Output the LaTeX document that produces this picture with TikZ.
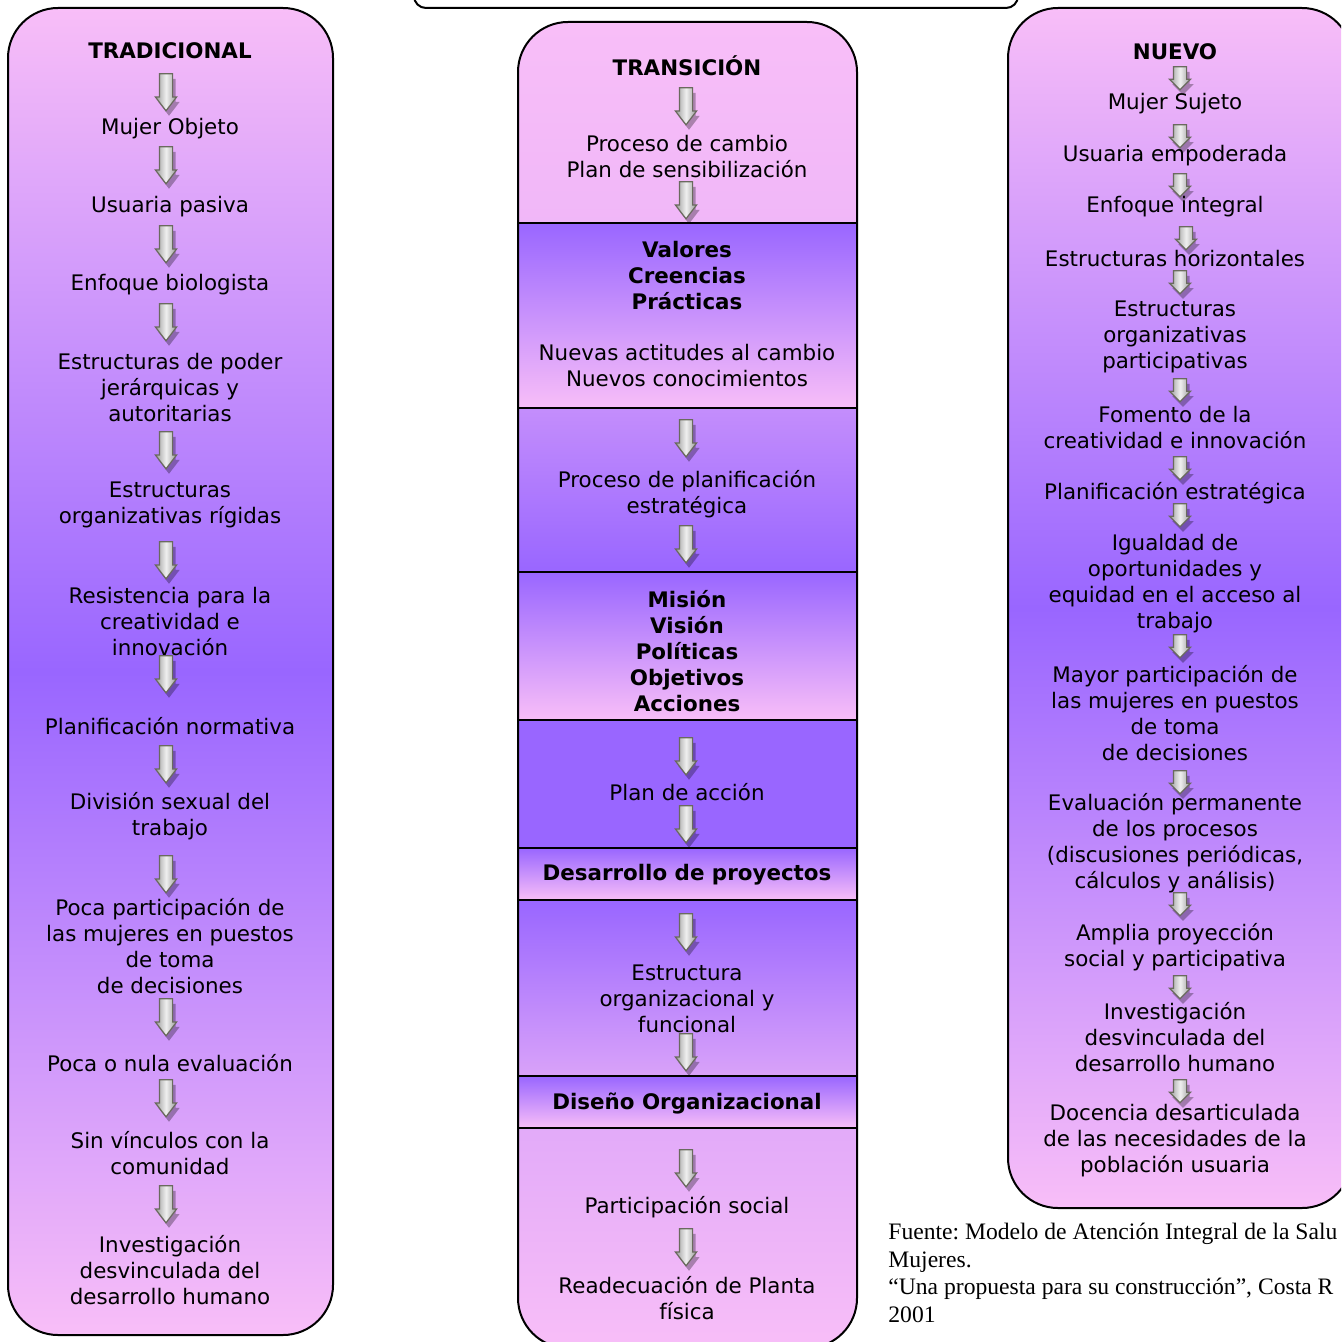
\documentclass[tikz,border=0pt]{standalone}
\usepackage{fontspec}
\setmainfont{DejaVu Sans}
\newfontfamily\fuentefont{Liberation Serif}
\usepackage{tikz}
\usetikzlibrary{shapes}
\usetikzlibrary{shapes.arrows}
\usetikzlibrary{shadows}
\usetikzlibrary{positioning}
\usepackage{xcolor}
\definecolor{rosa}{HTML}{F8BEF8}
\definecolor{lila}{HTML}{9966FF}
\definecolor{malva}{HTML}{D9A2F9}
\definecolor{gris}{HTML}{6A6A5E}
\frenchspacing
\tikzstyle{borde} = [draw=black, line width=1pt]
\tikzstyle{txt} = [inner sep=0pt, align=center, yshift=-1pt, font={\fontsize{10.7pt}{13pt}\selectfont}]
\tikzstyle{tit} = [inner sep=0pt, align=center, yshift=-1pt, font={\fontsize{10.7pt}{13pt}\selectfont\bfseries}]
\tikzstyle{flecha} = [single arrow, shape border rotate=270, draw=gris, line width=0.6pt,
  minimum height=18.5pt, minimum width=10pt, single arrow head extend=2pt,
  single arrow tip angle=75, inner sep=3pt, left color=gray!80, right color=gray!80,
  middle color=gray!12, drop shadow={shadow xshift=1.5pt, shadow yshift=-2.5pt, opacity=0.3, fill=black}]
\tikzstyle{flechac} = [flecha, minimum height=11.5pt, single arrow tip angle=90]
\tikzstyle{fuente} = [inner sep=0pt, align=left, font={\fuentefont\fontsize{11.8pt}{13.75pt}\selectfont}]

\begin{document}
\begin{tikzpicture}[x=0.5pt, y=-0.5pt]

  \useasboundingbox (0,0) rectangle (1341,1342);
  \clip (0,0) rectangle (1341,1342);

  % Define title box (cut at the top)
  \draw[borde, rounded corners=6pt, fill=white] (414,-40) rectangle (1018,8);

  % Define columns
  \draw[borde, rounded corners=25pt, top color=rosa, bottom color=rosa, middle color=lila] (8,8) rectangle (333,1335);
  \draw[borde, rounded corners=25pt, top color=rosa, bottom color=rosa, middle color=lila] (1008,8) rectangle (1352,1208);

  % Define middle column sections
  \begin{scope}
    \clip[rounded corners=25pt] (518,22) rectangle (857,1348);
    \shade[top color=rosa, bottom color=rosa!75!malva] (518,22) rectangle (857,223);
    \shade[top color=lila, bottom color=rosa] (518,223) rectangle (857,408);
    \shade[top color=lila!55!rosa, bottom color=lila] (518,408) rectangle (857,572);
    \shade[top color=lila, bottom color=rosa] (518,572) rectangle (857,720);
    \fill[lila] (518,720) rectangle (857,848);
    \shade[top color=lila, bottom color=rosa] (518,848) rectangle (857,900);
    \shade[top color=lila, bottom color=malva] (518,900) rectangle (857,1076);
    \shade[top color=lila, bottom color=rosa] (518,1076) rectangle (857,1128);
    \shade[top color=malva!70!rosa, bottom color=rosa] (518,1128) rectangle (857,1348);
  \end{scope}
  \draw[borde] (518,223) -- (857,223);
  \draw[borde] (518,408) -- (857,408);
  \draw[borde] (518,572) -- (857,572);
  \draw[borde] (518,720) -- (857,720);
  \draw[borde] (518,848) -- (857,848);
  \draw[borde] (518,900) -- (857,900);
  \draw[borde] (518,1076) -- (857,1076);
  \draw[borde] (518,1128) -- (857,1128);
  \draw[borde, rounded corners=25pt] (518,22) rectangle (857,1348);

  % Define traditional model
  \node[tit] (trad) at (170,49) {TRADICIONAL};
  \node[txt] (t1) at (170,127) {Mujer Objeto};
  \node[txt] (t2) at (170,205) {Usuaria pasiva};
  \node[txt] (t3) at (170,283) {Enfoque biologista};
  \node[txt] (t4) at (170,386) {Estructuras de poder\\jerárquicas y\\autoritarias};
  \node[txt] (t5) at (170,503) {Estructuras\\organizativas rígidas};
  \node[txt] (t6) at (170,620) {Resistencia para la\\creatividad e\\innovación};
  \node[txt] (t7) at (170,724) {Planificación normativa};
  \node[txt] (t8) at (170,814) {División sexual del\\trabajo};
  \node[txt] (t9) at (170,944) {Poca participación de\\las mujeres en puestos\\de toma\\de decisiones};
  \node[txt] (t10) at (170,1061) {Poca o nula evaluación};
  \node[txt] (t11) at (170,1151) {Sin vínculos con la\\comunidad};
  \node[txt] (t12) at (170,1268) {Investigación\\desvinculada del\\desarrollo humano};

  % Define transition
  \node[tit] (trans) at (687,64) {TRANSICIÓN};
  \node[txt] (m1) at (687,155) {Proceso de cambio\\Plan de sensibilización};
  \node[tit] (m2) at (687,274) {Valores\\Creencias\\Prácticas};
  \node[txt] (m3) at (687,364) {Nuevas actitudes al cambio\\Nuevos conocimientos};
  \node[txt] (m4) at (687,492) {Proceso de planificación\\estratégica};
  \node[tit] (m5) at (687,649) {Misión\\Visión\\Políticas\\Objetivos\\Acciones};
  \node[txt] (m6) at (687,790) {Plan de acción};
  \node[tit] (m7) at (687,873) {Desarrollo de proyectos};
  \node[txt] (m8) at (687,997) {Estructura\\organizacional y\\funcional};
  \node[tit] (m9) at (687,1101) {Diseño Organizacional};
  \node[txt] (m10) at (687,1205) {Participación social};
  \node[txt] (m11) at (687,1296) {Readecuación de Planta\\física};

  % Define new model
  \node[tit] (nuevo) at (1175,50) {NUEVO};
  \node[txt] (r1) at (1175,102) {Mujer Sujeto};
  \node[txt] (r2) at (1175,154) {Usuaria empoderada};
  \node[txt] (r3) at (1175,205) {Enfoque integral};
  \node[txt] (r4) at (1175,257) {Estructuras horizontales};
  \node[txt] (r5) at (1175,335) {Estructuras\\organizativas\\participativas};
  \node[txt] (r6) at (1175,426) {Fomento de la\\creatividad e innovación};
  \node[txt] (r7) at (1175,491) {Planificación estratégica};
  \node[txt] (r8) at (1175,582) {Igualdad de\\oportunidades y\\equidad en el acceso al\\trabajo};
  \node[txt] (r9) at (1175,711) {Mayor participación de\\las mujeres en puestos\\de toma\\de decisiones};
  \node[txt] (r10) at (1175,841) {Evaluación permanente\\de los procesos\\(discusiones periódicas,\\cálculos y análisis)};
  \node[txt] (r11) at (1175,945) {Amplia proyección\\social y participativa};
  \node[txt] (r12) at (1175,1035) {Investigación\\desvinculada del\\desarrollo humano};
  \node[txt] (r13) at (1175,1139) {Docencia desarticulada\\de las necesidades de la\\población usuaria};

  % Define source (cut at the right edge)
  \node[fuente, anchor=north west] (fuente) at (888,1223) {Fuente: Modelo de Atención Integral de la Salu\\Mujeres.\\“Una propuesta para su construcción”, Costa R\\2001};

  % Draw arrows
  \node[flecha] (ft1) at (166,88) {};
  \node[flecha] (ft2) at (166,161) {};
  \node[flecha] (ft3) at (166,240) {};
  \node[flecha] (ft4) at (166,318) {};
  \node[flecha] (ft5) at (166,446) {};
  \node[flecha] (ft6) at (166,556) {};
  \node[flecha] (ft7) at (166,670) {};
  \node[flecha] (ft8) at (166,760) {};
  \node[flecha] (ft9) at (166,870) {};
  \node[flecha] (ft10) at (166,1013) {};
  \node[flecha] (ft11) at (166,1094) {};
  \node[flecha] (ft12) at (166,1200) {};

  \node[flecha] (fm1) at (686,102) {};
  \node[flecha] (fm2) at (686,196) {};
  \node[flecha] (fm3) at (686,434) {};
  \node[flecha] (fm4) at (686,540) {};
  \node[flecha] (fm5) at (686,752) {};
  \node[flecha] (fm6) at (686,820) {};
  \node[flecha] (fm7) at (686,928) {};
  \node[flecha] (fm8) at (686,1048) {};
  \node[flecha] (fm9) at (686,1164) {};
  \node[flecha] (fm10) at (686,1243) {};

  \node[flechac] (fr1) at (1180,75) {};
  \node[flechac] (fr2) at (1180,133) {};
  \node[flechac] (fr3) at (1180,182) {};
  \node[flechac] (fr4) at (1186,235) {};
  \node[flechac] (fr5) at (1180,279) {};
  \node[flechac] (fr6) at (1180,387) {};
  \node[flechac] (fr7) at (1180,465) {};
  \node[flechac] (fr8) at (1180,512) {};
  \node[flechac] (fr9) at (1180,643) {};
  \node[flechac] (fr10) at (1180,779) {};
  \node[flechac] (fr11) at (1180,901) {};
  \node[flechac] (fr12) at (1180,984) {};
  \node[flechac] (fr13) at (1180,1088) {};

\end{tikzpicture}
\end{document}
